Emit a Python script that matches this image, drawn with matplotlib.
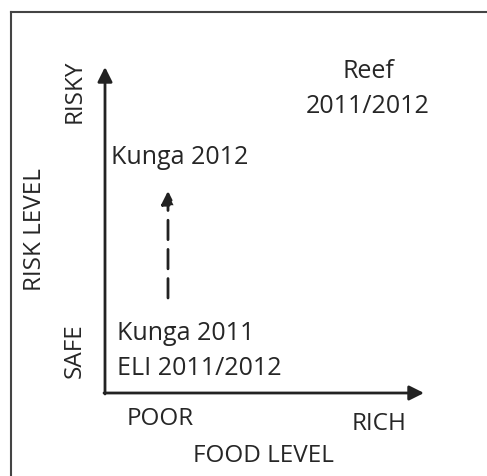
import matplotlib.pyplot as plt

# conceptual diagram: food level (x) vs risk level (y), in pixel-like units
axis_origin = (105, 393)
x_tip = (424, 393)
y_tip = (105, 67)
shift_start = (168, 298)
shift_end = (168, 191)

site_labels = ["Reef\n2011/2012", "Kunga 2012", "Kunga 2011\nELI 2011/2012"]
site_pos = [(368, 89), (111, 157), (117, 351)]
site_align = ["center", "left", "left"]

plt.rcParams['font.family'] = ['Open Sans', 'DejaVu Sans']
txt = '#262626'

fig = plt.figure(figsize=(4.87, 4.76), dpi=100)
ax = fig.add_axes([0, 0, 1, 1])
ax.set_xlim(0, 487)
ax.set_ylim(476, 0)
ax.axis('off')

# frame (top and left only visible)
ax.plot([10.5, 487], [11.5, 11.5], color='#444444', lw=1.5)
ax.plot([10.5, 10.5], [11.5, 476], color='#444444', lw=1.5)

# axes arrows
ax.annotate('', xy=x_tip, xytext=(axis_origin[0] - 1, axis_origin[1]),
            arrowprops=dict(arrowstyle='-|>', color='#222222', lw=2, mutation_scale=22,
                            shrinkA=0, shrinkB=0))
ax.annotate('', xy=y_tip, xytext=(axis_origin[0], axis_origin[1] + 1),
            arrowprops=dict(arrowstyle='-|>', color='#222222', lw=2, mutation_scale=22,
                            shrinkA=0, shrinkB=0))
ax.annotate('', xy=shift_end, xytext=shift_start,
            arrowprops=dict(arrowstyle='-|>', color='#222222', lw=2, mutation_scale=20,
                            linestyle=(0, (7, 3.5)), shrinkA=0, shrinkB=0))

for lab, (x, y), ha in zip(site_labels, site_pos, site_align):
    ax.text(x, y, lab, ha=ha, va='center', fontsize=18, color=txt, linespacing=1.5)

# axis labels
ax.text(75, 91, 'RISKY', rotation=90, ha='center', va='center', fontsize=17.5, color=txt)
ax.text(75, 351, 'SAFE', rotation=90, ha='center', va='center', fontsize=17.5, color=txt)
ax.text(35, 230, 'RISK LEVEL', rotation=90, ha='center', va='center', fontsize=17.5, color=txt)
ax.text(160, 419, 'POOR', ha='center', va='center', fontsize=17.5, color=txt)
ax.text(379, 424, 'RICH', ha='center', va='center', fontsize=17.5, color=txt)
ax.text(263, 456, 'FOOD LEVEL', ha='center', va='center', fontsize=17.5, color=txt)

fig.savefig('out.png', dpi=100)
